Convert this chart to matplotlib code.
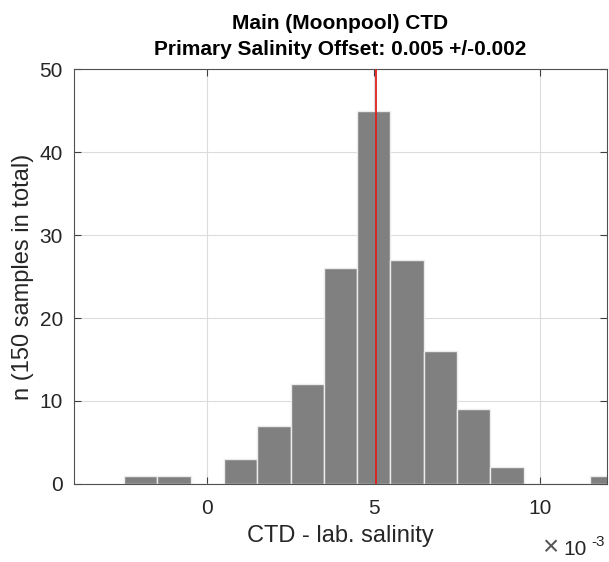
import matplotlib.pyplot as plt
from matplotlib.ticker import FuncFormatter

plt.rcParams['font.family'] = ['Liberation Sans', 'DejaVu Sans']

# bin centres (salinity units) and counts
bin_centers = [-0.002, -0.001, 0.000, 0.001, 0.002, 0.003, 0.004, 0.005,
               0.006, 0.007, 0.008, 0.009, 0.010, 0.011, 0.012]
counts = [1, 1, 0, 3, 7, 12, 26, 45, 27, 16, 9, 2, 0, 0, 1]
bin_width = 0.001
offset_mean = 0.00507

x_ticks = [0.0, 0.005, 0.010]
y_ticks = [0, 10, 20, 30, 40, 50]

fig = plt.figure(figsize=(6.09, 5.62), dpi=100)
ax = fig.add_axes([0.1215, 0.1388, 0.8752, 0.7384])

ax.bar(bin_centers, counts, width=bin_width, color='#808080',
       edgecolor='#ececec', linewidth=1.0, zorder=2)
ax.axvline(offset_mean, color='#e0201c', linewidth=1.3, zorder=3)

ax.set_xlim(-0.004, 0.012)
ax.set_ylim(0, 50)
ax.set_xticks(x_ticks)
ax.set_yticks(y_ticks)
ax.xaxis.set_major_formatter(FuncFormatter(lambda v, p: '%g' % round(v * 1000, 6)))

ax.grid(True, color='#dcdcdc', linewidth=0.8)
ax.set_axisbelow(True)
ax.tick_params(direction='in', length=5, width=0.8, colors='#404040',
               labelcolor='#262626', labelsize=15, top=True, right=True)
ax.tick_params(axis='x', pad=11)
ax.tick_params(axis='y', pad=8)
for s in ax.spines.values():
    s.set_color('#505050')
    s.set_linewidth(0.8)

ax.set_xlabel('CTD - lab. salinity', fontsize=17, color='#262626', labelpad=5)
ax.set_ylabel('n (150 samples in total)', fontsize=17, color='#262626', labelpad=4)
ax.set_title('Main (Moonpool) CTD\nPrimary Salinity Offset: 0.005 +/-0.002',
             fontsize=15, fontweight='bold', pad=10, linespacing=1.5)

# MATLAB-style exponent label under the right end of the x axis
fig.text(0.994, 0.0285, '-3', ha='right', va='baseline', fontsize=11, color='#262626')
fig.text(0.963, 0.0125, '10', ha='right', va='baseline', fontsize=15, color='#262626')
fig.text(0.917, 0.0125, '\u00d7', ha='right', va='baseline', fontsize=20,
         color='#555555', fontweight='light')

fig.savefig('out.png', dpi=100)
